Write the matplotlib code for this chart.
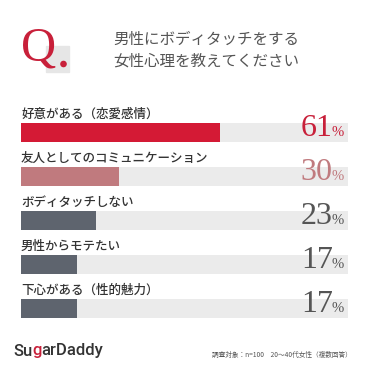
import matplotlib
matplotlib.use("Agg")
import matplotlib.pyplot as plt
from matplotlib.patches import Rectangle, Circle

# data
labels = ["好意がある（恋愛感情）", "友人としてのコミュニケーション", "ボディタッチしない",
          "男性からモテたい", "下心がある（性的魅力）"]
values = [61, 30, 23, 17, 17]
bar_colors = ["#D41A35", "#C07A7E", "#5E646E", "#5E646E", "#5E646E"]
num_colors = ["#C8203A", "#C07A7E", "#555555", "#555555", "#555555"]
title_lines = ["男性にボディタッチをする", "女性心理を教えてください"]
footnote = "調査対象：n=100　20～40代女性（複数回答）"

W = H = 370
fig = plt.figure(figsize=(3.7, 3.7), dpi=100)
fig.patch.set_facecolor("white")

# overlay axes in pixel coords
ov = fig.add_axes([0, 0, 1, 1])
ov.set_xlim(0, W)
ov.set_ylim(H, 0)
ov.axis("off")

jp = ["Noto Sans CJK JP", "DejaVu Sans"]
serif = ["Liberation Serif", "DejaVu Serif"]

# Q. header
ov.add_patch(Rectangle((46, 46), 23, 26, color="#E6E6E6", zorder=1))
ov.text(21, 60, "Q", fontsize=35, family=serif, color="#C8203A",
        va="baseline", ha="left", zorder=2)
ov.add_patch(Circle((63.5, 64), 2.6, color="#C8203A", zorder=3))
for i, t in enumerate(title_lines):
    ov.text(113, 39 + i * 22, t, fontsize=11.2, family=jp, color="#555555",
            va="center", ha="left")

# bars
top, slot = 110.5, 44.1
n = len(values)
bx = fig.add_axes([21 / W, 1 - (top + n * slot) / H, 327 / W, n * slot / H])
bx.set_xlim(0, 100)
bx.set_ylim(n - 0.5, -0.5)
bx.axis("off")
ypos = list(range(n))
bx.barh(ypos, [100] * n, height=0.43, color="#EBEBEB", zorder=1)
bx.barh(ypos, values, height=0.43, color=bar_colors, zorder=2)

for i, (lab, v) in enumerate(zip(labels, values)):
    bx.text(0, i - 0.42, lab, fontsize=9, family=jp, color="#333333",
            fontweight="medium", va="center", ha="left")
    bx.text(95.3, i + 0.08, str(v), fontsize=23, family=serif, color=num_colors[i],
            va="baseline", ha="right", zorder=3)
    bx.text(98.8, i + 0.08, "%", fontsize=10.5, family=serif, color=num_colors[i],
            va="baseline", ha="right", zorder=3)

# footer logo
fig.canvas.draw()
r = fig.canvas.get_renderer()
x = 13
for part, col in [("Su", "#333333"), ("g", "#C8203A"), ("arDaddy", "#333333")]:
    t = ov.text(x, 355.5, part, fontsize=12, family=["Roboto", "DejaVu Sans"],
                fontweight="medium", color=col, va="baseline", ha="left")
    bb = t.get_window_extent(renderer=r)
    x += bb.width

ov.text(352, 355, footnote, fontsize=4.8, family=jp, color="#555555",
        va="center", ha="right")

fig.savefig("out.png", dpi=100, facecolor="white")
